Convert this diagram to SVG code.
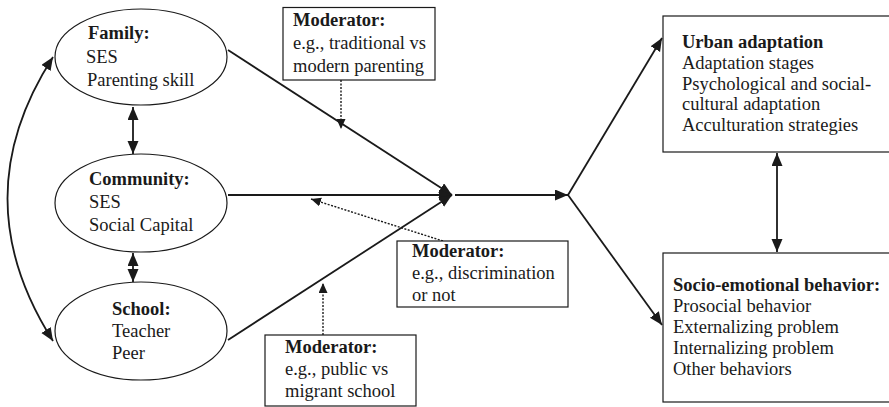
<svg xmlns="http://www.w3.org/2000/svg" width="889" height="407" viewBox="0 0 889 407">
<style>
text{font-family:"Liberation Serif","Times New Roman",serif;font-size:18.5px;fill:#1a1a1a}
.b{font-weight:bold}
.node{fill:#fff;stroke:#1a1a1a;stroke-width:1.2}
.ln{fill:none;stroke:#1a1a1a;stroke-width:1.8}
.dot{fill:none;stroke:#1a1a1a;stroke-width:1.4;stroke-dasharray:2,1.5}
</style>
<defs>
<marker id="ah" markerUnits="userSpaceOnUse" markerWidth="15" markerHeight="12" refX="13" refY="5.5" orient="auto-start-reverse">
<path d="M0,0 L13,5.5 L0,11 z" fill="#1a1a1a"/>
</marker>
<marker id="ahs" markerUnits="userSpaceOnUse" markerWidth="12" markerHeight="10" refX="10" refY="4.5" orient="auto">
<path d="M0,0 L10,4.5 L0,9 z" fill="#1a1a1a"/>
</marker>
</defs>

<g id="connectors">
<path class="ln" d="M53,57 Q-38,198 53,341" marker-start="url(#ah)" marker-end="url(#ah)"/>
<line class="ln" x1="133" y1="107" x2="133" y2="154" marker-start="url(#ah)" marker-end="url(#ah)"/>
<line class="ln" x1="133" y1="253" x2="133" y2="282" marker-start="url(#ah)" marker-end="url(#ah)"/>
<line class="ln" x1="228" y1="50" x2="452" y2="195" marker-end="url(#ah)"/>
<line class="ln" x1="228" y1="195" x2="452" y2="195" marker-end="url(#ah)"/>
<line class="ln" x1="228" y1="340" x2="452" y2="195" marker-end="url(#ah)"/>
<line class="ln" x1="455" y1="195" x2="568" y2="195" marker-end="url(#ah)"/>
<line class="ln" x1="568" y1="195" x2="662" y2="38" marker-end="url(#ah)"/>
<line class="ln" x1="568" y1="195" x2="662" y2="325" marker-end="url(#ah)"/>
<line class="ln" x1="777" y1="153" x2="777" y2="252" marker-start="url(#ah)" marker-end="url(#ah)"/>
<line class="dot" x1="341" y1="80" x2="341" y2="129" marker-end="url(#ahs)"/>
<line class="dot" x1="443" y1="241" x2="311" y2="199" marker-end="url(#ahs)"/>
<line class="dot" x1="323" y1="335" x2="323" y2="283" marker-end="url(#ahs)"/>
</g>

<g id="family">
<ellipse class="node" cx="141" cy="57" rx="86" ry="48"/>
<text x="88" y="39" class="b">Family:</text>
<text x="86" y="63">SES</text>
<text x="87" y="86">Parenting skill</text>
</g>

<g id="community">
<ellipse class="node" cx="141" cy="203" rx="86" ry="49"/>
<text x="89" y="185" class="b">Community:</text>
<text x="89" y="208">SES</text>
<text x="89" y="231">Social Capital</text>
</g>

<g id="school">
<ellipse class="node" cx="141" cy="331" rx="86" ry="49"/>
<text x="112" y="315" class="b">School:</text>
<text x="112" y="337">Teacher</text>
<text x="112" y="359">Peer</text>
</g>

<g id="mod-family">
<rect class="node" x="283" y="7.5" width="152" height="72.5"/>
<text x="293" y="26" class="b">Moderator:</text>
<text x="293" y="49">e.g., traditional vs</text>
<text x="293" y="72">modern parenting</text>
</g>

<g id="mod-community">
<rect class="node" x="397" y="241" width="171" height="66"/>
<text x="412" y="257" class="b">Moderator:</text>
<text x="412" y="279">e.g., discrimination</text>
<text x="412" y="301">or not</text>
</g>

<g id="mod-school">
<rect class="node" x="265" y="335" width="151" height="71"/>
<text x="285" y="353" class="b">Moderator:</text>
<text x="285" y="375">e.g., public vs</text>
<text x="285" y="397">migrant school</text>
</g>

<g id="urban">
<rect class="node" x="663" y="16" width="230" height="136"/>
<text x="682" y="48" class="b">Urban adaptation</text>
<text x="682" y="68.5">Adaptation stages</text>
<text x="682" y="89.5">Psychological and social-</text>
<text x="682" y="110">cultural adaptation</text>
<text x="682" y="131">Acculturation strategies</text>
</g>

<g id="socio">
<rect class="node" x="663" y="253" width="230" height="149"/>
<text x="673" y="291" class="b">Socio-emotional behavior:</text>
<text x="673" y="312">Prosocial behavior</text>
<text x="673" y="333">Externalizing problem</text>
<text x="673" y="354">Internalizing problem</text>
<text x="673" y="375">Other behaviors</text>
</g>
</svg>
